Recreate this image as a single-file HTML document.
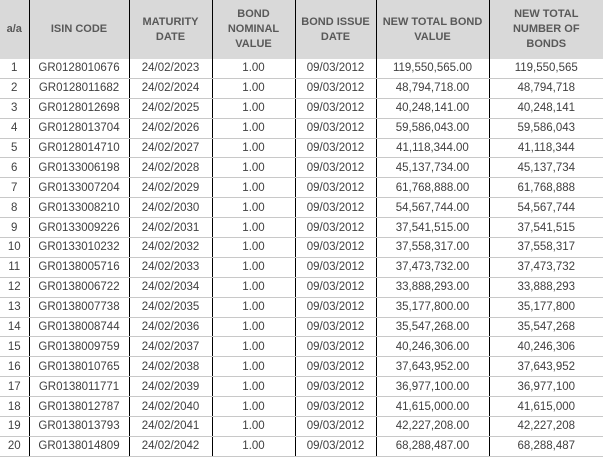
<!DOCTYPE html>
<html><head><style>
body{margin:0;width:603px;height:455px;overflow:hidden;background:#fff;font-family:"Liberation Sans",Arial,sans-serif;}
table{border-collapse:collapse;table-layout:fixed;width:603px;position:absolute;top:0;left:0;}
th{background:#d9d9d9;color:#595959;font-size:11px;font-weight:bold;height:59px;padding:0;text-align:center;line-height:15px;border-left:1.5px solid #000;}
td{height:18.9px;padding:0;font-size:11.5px;line-height:12px;color:#404040;text-align:center;border-bottom:1px solid #c8c8c8;border-left:1.5px solid #000;}
th:first-child,td:first-child{border-left:none;}
</style></head><body>
<table>
<colgroup><col style="width:29px"><col style="width:100px"><col style="width:83px"><col style="width:83px"><col style="width:81px"><col style="width:113px"><col style="width:114px"></colgroup>
<tr><th>a/a</th><th>ISIN CODE</th><th>MATURITY<br>DATE</th><th>BOND<br>NOMINAL<br>VALUE</th><th>BOND ISSUE<br>DATE</th><th>NEW TOTAL BOND<br>VALUE</th><th>NEW TOTAL<br>NUMBER OF<br>BONDS</th></tr>
<tr><td>1</td><td>GR0128010676</td><td>24/02/2023</td><td>1.00</td><td>09/03/2012</td><td>119,550,565.00</td><td>119,550,565</td></tr>
<tr><td>2</td><td>GR0128011682</td><td>24/02/2024</td><td>1.00</td><td>09/03/2012</td><td>48,794,718.00</td><td>48,794,718</td></tr>
<tr><td>3</td><td>GR0128012698</td><td>24/02/2025</td><td>1.00</td><td>09/03/2012</td><td>40,248,141.00</td><td>40,248,141</td></tr>
<tr><td>4</td><td>GR0128013704</td><td>24/02/2026</td><td>1.00</td><td>09/03/2012</td><td>59,586,043.00</td><td>59,586,043</td></tr>
<tr><td>5</td><td>GR0128014710</td><td>24/02/2027</td><td>1.00</td><td>09/03/2012</td><td>41,118,344.00</td><td>41,118,344</td></tr>
<tr><td>6</td><td>GR0133006198</td><td>24/02/2028</td><td>1.00</td><td>09/03/2012</td><td>45,137,734.00</td><td>45,137,734</td></tr>
<tr><td>7</td><td>GR0133007204</td><td>24/02/2029</td><td>1.00</td><td>09/03/2012</td><td>61,768,888.00</td><td>61,768,888</td></tr>
<tr><td>8</td><td>GR0133008210</td><td>24/02/2030</td><td>1.00</td><td>09/03/2012</td><td>54,567,744.00</td><td>54,567,744</td></tr>
<tr><td>9</td><td>GR0133009226</td><td>24/02/2031</td><td>1.00</td><td>09/03/2012</td><td>37,541,515.00</td><td>37,541,515</td></tr>
<tr><td>10</td><td>GR0133010232</td><td>24/02/2032</td><td>1.00</td><td>09/03/2012</td><td>37,558,317.00</td><td>37,558,317</td></tr>
<tr><td>11</td><td>GR0138005716</td><td>24/02/2033</td><td>1.00</td><td>09/03/2012</td><td>37,473,732.00</td><td>37,473,732</td></tr>
<tr><td>12</td><td>GR0138006722</td><td>24/02/2034</td><td>1.00</td><td>09/03/2012</td><td>33,888,293.00</td><td>33,888,293</td></tr>
<tr><td>13</td><td>GR0138007738</td><td>24/02/2035</td><td>1.00</td><td>09/03/2012</td><td>35,177,800.00</td><td>35,177,800</td></tr>
<tr><td>14</td><td>GR0138008744</td><td>24/02/2036</td><td>1.00</td><td>09/03/2012</td><td>35,547,268.00</td><td>35,547,268</td></tr>
<tr><td>15</td><td>GR0138009759</td><td>24/02/2037</td><td>1.00</td><td>09/03/2012</td><td>40,246,306.00</td><td>40,246,306</td></tr>
<tr><td>16</td><td>GR0138010765</td><td>24/02/2038</td><td>1.00</td><td>09/03/2012</td><td>37,643,952.00</td><td>37,643,952</td></tr>
<tr><td>17</td><td>GR0138011771</td><td>24/02/2039</td><td>1.00</td><td>09/03/2012</td><td>36,977,100.00</td><td>36,977,100</td></tr>
<tr><td>18</td><td>GR0138012787</td><td>24/02/2040</td><td>1.00</td><td>09/03/2012</td><td>41,615,000.00</td><td>41,615,000</td></tr>
<tr><td>19</td><td>GR0138013793</td><td>24/02/2041</td><td>1.00</td><td>09/03/2012</td><td>42,227,208.00</td><td>42,227,208</td></tr>
<tr><td>20</td><td>GR0138014809</td><td>24/02/2042</td><td>1.00</td><td>09/03/2012</td><td>68,288,487.00</td><td>68,288,487</td></tr>
</table>
</body></html>
